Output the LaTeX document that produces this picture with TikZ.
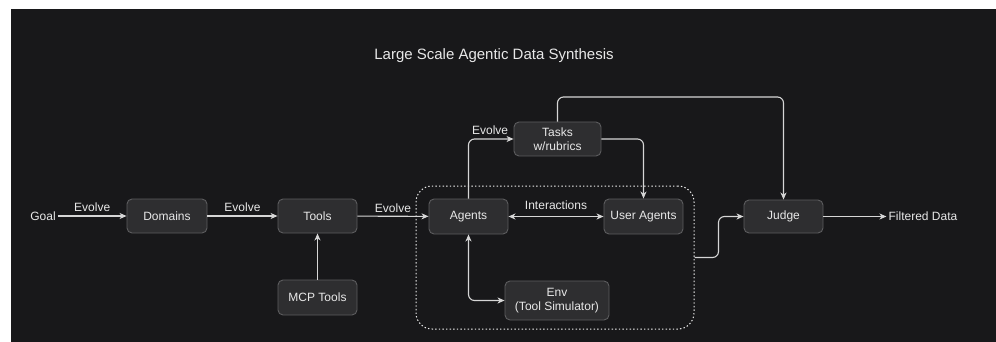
\documentclass[tikz,border=0pt]{standalone}
\usepackage{fontspec}
\setmainfont{Liberation Sans}
\usetikzlibrary{arrows.meta,calc}
\definecolor{canvas}{RGB}{24,24,26}
\definecolor{boxfill}{RGB}{46,46,48}
\definecolor{boxline}{RGB}{92,92,94}
\definecolor{ink}{RGB}{232,232,232}
\definecolor{wire}{RGB}{214,214,214}
\begin{document}
\begin{tikzpicture}[x=1pt,y=-1pt,
  every node/.style={font=\fontsize{12}{14.5}\selectfont, text=ink},
  stepbox/.style={draw=boxline, fill=boxfill, line width=0.9pt, rounded corners=5pt,
    minimum width=80pt, minimum height=34pt, align=center, inner sep=2pt},
  plain/.style={inner sep=2pt},
  lbl/.style={inner sep=3.5pt},
  wirestyle/.style={draw=wire, line width=1.1pt, rounded corners=6pt},
  arr/.style={wirestyle, -{Stealth[length=7pt,width=6pt,inset=2pt]}},
  biarr/.style={wirestyle, {Stealth[length=7pt,width=6pt,inset=2pt]}-{Stealth[length=7pt,width=6pt,inset=2pt]}},
  region/.style={draw=ink!80, line width=1pt, dash pattern=on 1.4pt off 2.2pt,
    rounded corners=16pt, minimum width=278pt, minimum height=143pt, inner sep=0pt}]

  % page frame and dark canvas
  \useasboundingbox (0,0) rectangle (996,342);
  \fill[white] (0,0) rectangle (996,342);
  \fill[canvas] (11,9) rectangle (996,342);

  % title
  \node[font=\fontsize{15}{18}\selectfont] (title) at (494,56) {Large Scale Agentic Data Synthesis};

  % dashed agent loop region
  \node[region] (loop) at (555,257.5) {};

  % nodes
  \node[plain] (goal) at (43,216) {Goal};
  \node[stepbox] (domains) at (167,216) {Domains};
  \node[stepbox, minimum width=79pt] (tools) at (317.5,216) {Tools};
  \node[stepbox, minimum width=79pt, minimum height=35pt] (mcp) at (317.5,297.5) {MCP Tools};
  \node[stepbox, minimum width=79pt, minimum height=35pt] (agents) at (468.5,216.5) {Agents};
  \node[stepbox, minimum width=79pt, minimum height=35pt] (users) at (643.5,216.5) {User Agents};
  \node[stepbox, minimum width=87pt] (tasks) at (557.5,139) {Tasks\\w/rubrics};
  \node[stepbox, minimum width=104pt, minimum height=39pt] (env) at (557,300.5) {Env\\(Tool Simulator)};
  \node[stepbox, minimum width=79pt, minimum height=33pt] (judge) at (783.5,216.5) {Judge};
  \node[plain] (filtered) at (923,216.5) {Filtered Data};

  \coordinate (toprail) at (557,97);

  % connectors
  \draw[arr] (goal) -- node[lbl, above] (ev1) {Evolve} (domains);
  \draw[arr] (domains) -- node[lbl, above] (ev2) {Evolve} (tools);
  \draw[arr] (tools) -- node[lbl, above] (ev3) {Evolve} (agents);
  \draw[arr] (mcp) -- (tools);
  \draw[biarr] (agents) -- node[lbl, above, yshift=3pt] (inter) {Interactions} (users);
  \draw[arr] (agents.north) |- node[lbl, pos=0.74, above] (ev4) {Evolve} (tasks.west);
  \draw[arr] (tasks.east) -| (users.north);
  \draw[arr] (tasks.north) -- (tasks.north |- toprail) -| (judge.north);
  \draw[biarr] (agents.south) |- (env.west);
  \draw[arr] (loop.east) -- ++(24,0) |- (judge.west);
  \draw[arr] (judge) -- (filtered);
\end{tikzpicture}
\end{document}
